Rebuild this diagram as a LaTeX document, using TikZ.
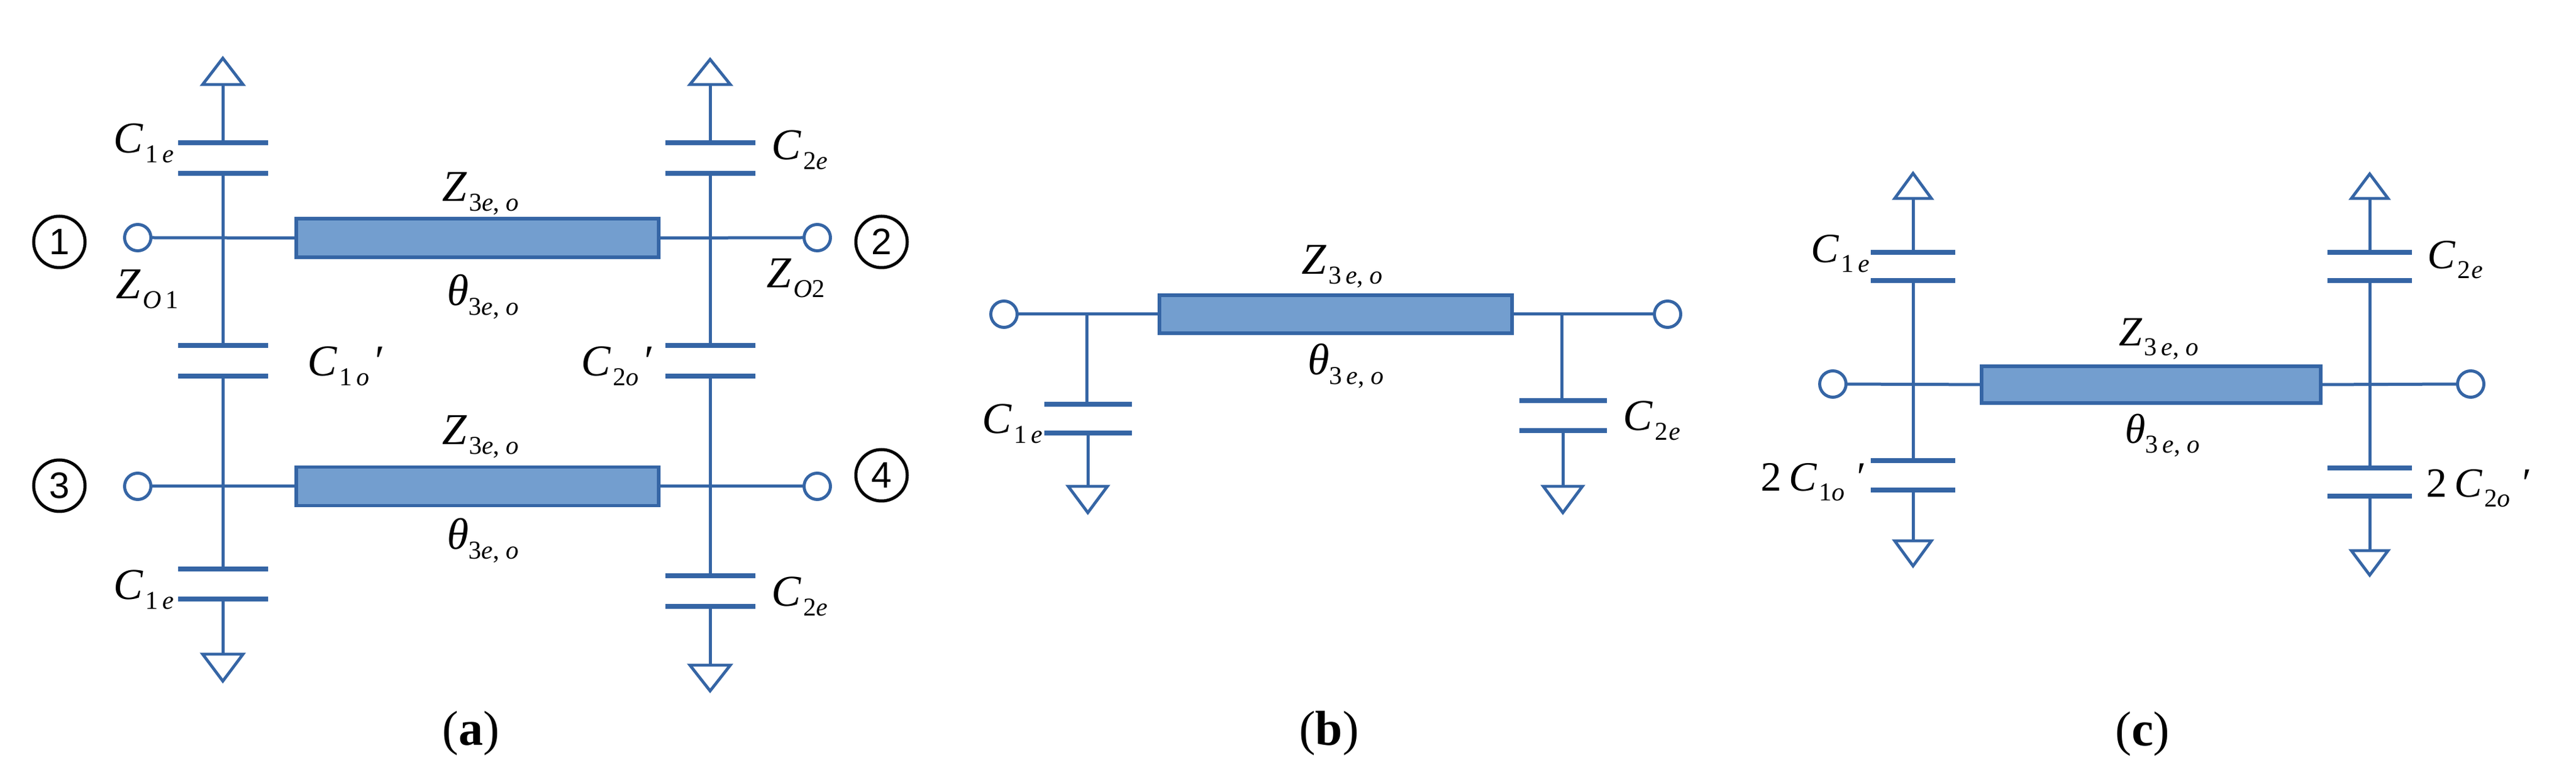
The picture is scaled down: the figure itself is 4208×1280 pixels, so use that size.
\documentclass[tikz,border=0pt]{standalone}
\usepackage{fontspec}
\setmainfont{Liberation Serif}
\newfontfamily\numfont{Liberation Sans}
\definecolor{wireblue}{HTML}{3565A5}
\definecolor{boxblue}{HTML}{739ECF}
\newcommand{\subt}[1]{{\fontsize{10.5}{12}\selectfont #1}}
\newcommand{\cc}[2]{{\itshape #1}\kern1pt\raisebox{-4pt}{\subt{#2}}}
\newcommand{\itx}[1]{{\itshape #1}}
\newcommand{\zl}{\cc{Z}{3\itx{e}, \itx{o}}}
\newcommand{\tl}{{\itshape θ}\raisebox{-4pt}{\subt{3\itx{e}, \itx{o}}}}
\newcommand{\ttl}{{\itshape θ}\raisebox{-4pt}{\subt{3\,\itx{e}, \itx{o}}}}
\newcommand{\zzl}{\cc{Z}{3\,\itx{e}, \itx{o}}}
\tikzset{
  wire/.style={draw=wireblue,line width=1.25pt},
  plate/.style={rectangle,fill=wireblue,inner sep=0pt,outer sep=0pt,minimum height=2.1pt},
  plateA/.style={plate,minimum width=36.75pt},
  plateB/.style={plate,minimum width=35.75pt},
  plateC/.style={plate,minimum width=34.5pt},
  port/.style={circle,draw=wireblue,fill=white,line width=1.25pt,inner sep=0pt,outer sep=0pt,minimum size=10.75pt},
  tline/.style={rectangle,draw=wireblue,fill=boxblue,line width=1.4pt,inner sep=0pt,outer sep=0pt},
  lbl/.style={anchor=base west,inner sep=0pt,outer sep=0pt,font=\fontsize{18}{20}\selectfont},
  lblc/.style={lbl,font=\fontsize{17}{20}\selectfont},
  num/.style={circle,draw=black,line width=1.25pt,inner sep=0pt,minimum size=21pt,font=\numfont\fontsize{15}{17}\selectfont},
  captext/.style={inner sep=0pt,font=\fontsize{20}{22}\selectfont},
  gnd/.style={draw=wireblue,fill=white,line width=1.2pt,line join=miter}
}
\begin{document}
\begin{tikzpicture}[x=0.25pt,y=-0.25pt]
\useasboundingbox[fill=white] (0,0) rectangle (4208,1280);

% ---------- (a) ----------
\node[port] (a1) at (225,388) {};
\node[port] (a2) at (1335,388) {};
\node[port] (a3) at (225,794) {};
\node[port] (a4) at (1335,794) {};
\node[tline,minimum width=148pt,minimum height=15.75pt] (abox1) at (780,388.5) {};
\node[tline,minimum width=148pt,minimum height=15.75pt] (abox2) at (780,794) {};
\node[plateA] (ap1) at (364,233) {};
\node[plateA] (ap2) at (364,283) {};
\node[plateA] (ap3) at (364,564) {};
\node[plateA] (ap4) at (364,614) {};
\node[plateA] (ap5) at (364,929) {};
\node[plateA] (ap6) at (364,978) {};
\node[plateA] (aq1) at (1160,233) {};
\node[plateA] (aq2) at (1160,283) {};
\node[plateA] (aq3) at (1160,564) {};
\node[plateA] (aq4) at (1160,614) {};
\node[plateA] (aq5) at (1160,940) {};
\node[plateA] (aq6) at (1160,990) {};
\coordinate (ag1) at (364,138);
\coordinate (ag2) at (1160,138);
\coordinate (ag3) at (364,1068);
\coordinate (ag4) at (1160,1086);
\draw[wire] (a1.east) -- (abox1.west);
\draw[wire] (abox1.east) -- (a2.west);
\draw[wire] (a3.east) -- (abox2.west);
\draw[wire] (abox2.east) -- (a4.west);
\draw[wire] (ag1) -- (ap1.north);
\draw[wire] (ap2.south) -- (ap3.north);
\draw[wire] (ap4.south) -- (ap5.north);
\draw[wire] (ap6.south) -- (ag3);
\draw[wire] (ag2) -- (aq1.north);
\draw[wire] (aq2.south) -- (aq3.north);
\draw[wire] (aq4.south) -- (aq5.north);
\draw[wire] (aq6.south) -- (ag4);
\draw[gnd] (ag1) -- ++(-33,0) -- ++(33,-43) -- ++(33,43) -- cycle;
\draw[gnd] (ag2) -- ++(-33,0) -- ++(33,-41) -- ++(33,41) -- cycle;
\draw[gnd] (ag3) -- ++(-33,0) -- ++(33,44) -- ++(33,-44) -- cycle;
\draw[gnd] (ag4) -- ++(-33,0) -- ++(33,42) -- ++(33,-42) -- cycle;
\node[num] (n1) at (97,395) {1};
\node[num] (n2) at (1440,395) {2};
\node[num] (n3) at (97,793) {3};
\node[num] (n4) at (1440,776) {4};
\node[lbl] (az1) at (722,329) {\zl};
\node[lbl] (at1) at (730,499) {\tl};
\node[lbl] (az2) at (722,726) {\zl};
\node[lbl] (at2) at (730,897) {\tl};
\node[lbl] (ac1) at (185,250) {\cc{C}{1\,\itx{e}}};
\node[lbl] (ac2) at (1260,261) {\cc{C}{2\itx{e}}};
\node[lbl] (ac3) at (185,979) {\cc{C}{1\,\itx{e}}};
\node[lbl] (ac4) at (1260,990) {\cc{C}{2\itx{e}}};
\node[lbl] (az01) at (189,488) {\cc{Z}{\itx{O}\,1}};
\node[lbl] (az02) at (1252,470) {\cc{Z}{\itx{O}2}};
\node[lbl] (aco1) at (502,614) {\cc{C}{1\,\itx{o}}\kern1.3pt{\itshape ′}};
\node[lbl] (aco2) at (949,614) {\cc{C}{2\itx{o}}\kern1.3pt{\itshape ′}};
\node[captext] (capa) at (769,1197) {(\textbf{a})};

% ---------- (b) ----------
\node[port] (b1) at (1640,513) {};
\node[port] (b2) at (2724,513) {};
\node[tline,minimum width=144pt,minimum height=15.5pt] (bbox) at (2182,513) {};
\node[plateB] (bp1) at (1777,660) {};
\node[plateB] (bp2) at (1777,707) {};
\node[plateB] (bq1) at (2553,654) {};
\node[plateB] (bq2) at (2553,703) {};
\coordinate (bj1) at (1775,513);
\coordinate (bj2) at (2551,513);
\coordinate (bg1) at (1777,794);
\coordinate (bg2) at (2553,794);
\draw[wire] (b1.east) -- (bbox.west);
\draw[wire] (bbox.east) -- (b2.west);
\draw[wire] (bj1) -- (bj1 |- bp1.north);
\draw[wire] (bj2) -- (bj2 |- bq1.north);
\draw[wire] (bp2.south) -- (bg1);
\draw[wire] (bq2.south) -- (bg2);
\draw[gnd] (bg1) -- ++(-32,0) -- ++(32,43) -- ++(32,-43) -- cycle;
\draw[gnd] (bg2) -- ++(-32,0) -- ++(32,43) -- ++(32,-43) -- cycle;
\node[lbl] (bz) at (2126,448) {\zzl};
\node[lbl] (bt) at (2136,612) {\ttl};
\node[lbl] (bc1) at (1604,708) {\cc{C}{1\,\itx{e}}};
\node[lbl] (bc2) at (2651,703) {\cc{C}{2\kern.5pt\itx{e}}};
\node[captext] (capb) at (2171,1197) {(\textbf{b})};

% ---------- (c) ----------
\node[port] (c1) at (2994,627) {};
\node[port] (c2) at (4036,627) {};
\node[tline,minimum width=138.5pt,minimum height=15pt] (cbox) at (3514,628) {};
\node[plateC] (cp1) at (3125,412) {};
\node[plateC] (cp2) at (3125,458) {};
\node[plateC] (cp3) at (3125,752) {};
\node[plateC] (cp4) at (3125,800) {};
\node[plateC] (cq1) at (3871,412) {};
\node[plateC] (cq2) at (3871,458) {};
\node[plateC] (cq3) at (3871,764) {};
\node[plateC] (cq4) at (3871,810) {};
\coordinate (cg1) at (3125,324);
\coordinate (cg2) at (3871,324);
\coordinate (cg3) at (3125,883);
\coordinate (cg4) at (3871,899);
\draw[wire] (c1.east) -- (cbox.west);
\draw[wire] (cbox.east) -- (c2.west);
\draw[wire] (cg1) -- (cp1.north);
\draw[wire] (cp2.south) -- (cp3.north);
\draw[wire] (cp4.south) -- (cg3);
\draw[wire] (cg2) -- (cq1.north);
\draw[wire] (cq2.south) -- (cq3.north);
\draw[wire] (cq4.south) -- (cg4);
\draw[gnd] (cg1) -- ++(-30,0) -- ++(30,-41) -- ++(30,41) -- cycle;
\draw[gnd] (cg2) -- ++(-30,0) -- ++(30,-40) -- ++(30,40) -- cycle;
\draw[gnd] (cg3) -- ++(-30,0) -- ++(30,41) -- ++(30,-41) -- cycle;
\draw[gnd] (cg4) -- ++(-30,0) -- ++(30,40) -- ++(30,-40) -- cycle;
\node[lblc] (cz) at (3461,565) {\zzl};
\node[lblc] (ct) at (3471,724) {\ttl};
\node[lblc] (cc1) at (2958,429) {\cc{C}{1\,\itx{e}}};
\node[lblc] (cc2) at (3965,439) {\cc{C}{2\kern.5pt\itx{e}}};
\node[lblc] (cc3) at (2876,802) {2\kern3pt\cc{C}{1\itx{o}}\kern4pt{\itshape ′}};
\node[lblc] (cc4) at (3963,812) {2\kern3pt\cc{C}{2\itx{o}}\kern4pt{\itshape ′}};
\node[captext] (capc) at (3500,1198) {(\textbf{c})};
\end{tikzpicture}
\end{document}
